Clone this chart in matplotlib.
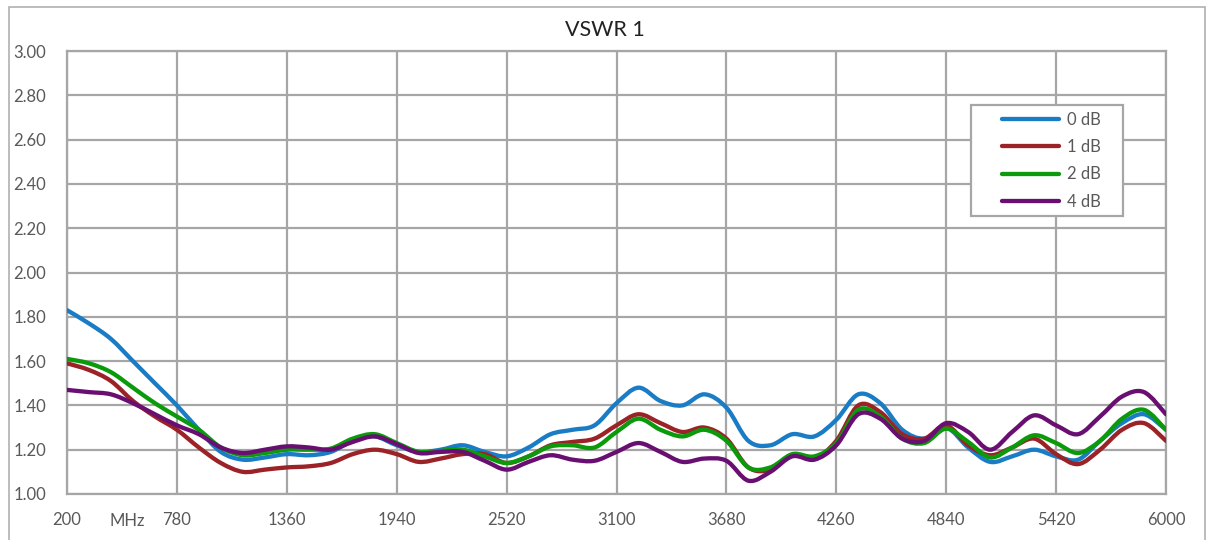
import matplotlib
matplotlib.use("Agg")
import matplotlib.pyplot as plt
from matplotlib.patches import Rectangle, PathPatch
from matplotlib.path import Path
from matplotlib.lines import Line2D
from matplotlib.legend_handler import HandlerLine2D
import numpy as np

freq_mhz = [200 + 116 * i for i in range(51)]

vswr_0db = [1.83, 1.77, 1.70, 1.60, 1.50, 1.40, 1.29, 1.19, 1.155, 1.165,
            1.18, 1.175, 1.19, 1.24, 1.26, 1.22, 1.19, 1.20, 1.22, 1.19,
            1.17, 1.21, 1.27, 1.29, 1.31, 1.41, 1.48, 1.42, 1.40, 1.45,
            1.39, 1.24, 1.22, 1.27, 1.26, 1.335, 1.45, 1.41, 1.29, 1.25,
            1.30, 1.21, 1.145, 1.17, 1.20, 1.17, 1.155, 1.24, 1.32, 1.36,
            1.29]
vswr_1db = [1.59, 1.56, 1.51, 1.42, 1.35, 1.29, 1.21, 1.14, 1.10, 1.11,
            1.12, 1.125, 1.14, 1.18, 1.20, 1.18, 1.145, 1.16, 1.18, 1.18,
            1.14, 1.17, 1.22, 1.235, 1.25, 1.31, 1.36, 1.32, 1.28, 1.30,
            1.25, 1.12, 1.11, 1.175, 1.16, 1.24, 1.40, 1.37, 1.27, 1.25,
            1.31, 1.22, 1.175, 1.21, 1.25, 1.18, 1.135, 1.20, 1.29, 1.32,
            1.24]
vswr_2db = [1.61, 1.59, 1.55, 1.48, 1.41, 1.35, 1.29, 1.21, 1.175, 1.185,
            1.20, 1.20, 1.205, 1.25, 1.27, 1.23, 1.19, 1.195, 1.20, 1.17,
            1.14, 1.17, 1.215, 1.22, 1.21, 1.28, 1.34, 1.29, 1.26, 1.29,
            1.24, 1.12, 1.12, 1.18, 1.17, 1.23, 1.38, 1.35, 1.25, 1.23,
            1.295, 1.235, 1.165, 1.21, 1.265, 1.23, 1.185, 1.24, 1.34, 1.38,
            1.29]
vswr_4db = [1.47, 1.46, 1.45, 1.41, 1.36, 1.31, 1.27, 1.21, 1.185, 1.20,
            1.215, 1.21, 1.20, 1.235, 1.26, 1.225, 1.185, 1.19, 1.19, 1.15,
            1.11, 1.145, 1.175, 1.155, 1.15, 1.19, 1.23, 1.19, 1.145, 1.16,
            1.15, 1.06, 1.10, 1.17, 1.155, 1.22, 1.36, 1.34, 1.25, 1.24,
            1.32, 1.28, 1.20, 1.28, 1.355, 1.31, 1.27, 1.35, 1.44, 1.46,
            1.36]

series_labels = ["0 dB", "1 dB", "2 dB", "4 dB"]
series_colors = ["#1a7cc4", "#9b2226", "#0b9a0b", "#6a0f72"]
x_ticks = [200, 780, 1360, 1940, 2520, 3100, 3680, 4260, 4840, 5420, 6000]
y_ticks = [1.00, 1.20, 1.40, 1.60, 1.80, 2.00, 2.20, 2.40, 2.60, 2.80, 3.00]
title = "VSWR 1"
unit_label = "MHz"

plt.rcParams['font.family'] = ['Lato', 'DejaVu Sans']
txt_color = "#595959"
grid_color = "#a6a6a6"


def smooth_path(xs, ys):
    """Smoothed-line path (Catmull-Rom as cubic Bezier) through the data points."""
    p = np.column_stack([xs, ys]).astype(float)
    n = len(p)
    verts = [p[0]]
    codes = [Path.MOVETO]
    for i in range(n - 1):
        p0 = p[i - 1] if i > 0 else p[i]
        p1, p2 = p[i], p[i + 1]
        p3 = p[i + 2] if i + 2 < n else p[i + 1]
        c1 = p1 + (p2 - p0) / 6.0
        c2 = p2 - (p3 - p1) / 6.0
        verts += [c1, c2, p2]
        codes += [Path.CURVE4] * 3
    return Path(verts, codes)


class PaddedLineHandler(HandlerLine2D):
    def __init__(self, lead_frac=0.32, **kw):
        super().__init__(**kw)
        self.lead_frac = lead_frac

    def create_artists(self, legend, orig_handle, xdescent, ydescent, width,
                       height, fontsize, trans):
        lead = self.lead_frac * width
        return super().create_artists(legend, orig_handle, xdescent - lead,
                                      ydescent, width - lead, height,
                                      fontsize, trans)


fig = plt.figure(figsize=(12.11, 5.40), dpi=100)
fig.patch.set_facecolor("white")

# chart-area border
fig.patches.append(Rectangle((9 / 1211, -0.05), (1205 - 9) / 1211, 1.05 - 6.5 / 540,
                             transform=fig.transFigure, fill=False,
                             edgecolor="#b0b0b0", linewidth=1.2, zorder=0))

ax = fig.add_axes([67 / 1211, 1 - 494 / 540, (1166 - 67) / 1211, (494 - 51) / 540])
ax.set_facecolor("none")

data = [vswr_0db, vswr_1db, vswr_2db, vswr_4db]
handles = []
for vals, lab, col in zip(data, series_labels, series_colors):
    patch = PathPatch(smooth_path(freq_mhz, vals), fill=False, edgecolor=col,
                      lw=3.1, joinstyle="round", capstyle="round", zorder=3,
                      transform=ax.transData)
    ax.add_patch(patch)
    handles.append(Line2D([], [], color=col, lw=3.1, solid_capstyle="round", label=lab))

ax.set_xlim(200, 6000)
ax.set_ylim(1.0, 3.0)
ax.set_xticks(x_ticks)
ax.set_yticks(y_ticks)
ax.set_yticklabels([f"{v:.2f}" for v in y_ticks])
ax.grid(True, color=grid_color, lw=1.6, zorder=1)
ax.set_axisbelow(True)
for s in ax.spines.values():
    s.set_color(grid_color)
    s.set_linewidth(1.6)
ax.tick_params(length=0, colors=txt_color, labelsize=12, pad=13)
ax.tick_params(axis='y', pad=15)
for lbl in ax.get_xticklabels() + ax.get_yticklabels():
    lbl.set_color(txt_color)

ax.text(517, -0.042, unit_label, transform=ax.get_xaxis_transform(),
        ha="center", va="top", color=txt_color, fontsize=12)

fig.text(605 / 1211, 1 - 30 / 540, title, ha="center", va="center",
         fontsize=15.5, color="#222222")

x0 = (971 - 67) / 1099
w = (1123 - 971) / 1099
y_top = (494 - 105) / 443
leg = ax.legend(handles=handles, loc="upper left",
                bbox_to_anchor=(x0, y_top - 0.2, w, 0.2), mode="expand",
                frameon=True, fancybox=False, edgecolor=grid_color, framealpha=1,
                fontsize=12, handlelength=4.9, handletextpad=0.45, labelspacing=0.68,
                borderpad=0.4, borderaxespad=0,
                handler_map={Line2D: PaddedLineHandler(lead_frac=0.3)})
leg.get_frame().set_linewidth(1.6)
for t in leg.get_texts():
    t.set_color(txt_color)

fig.savefig("out.png", dpi=100, facecolor="white")
